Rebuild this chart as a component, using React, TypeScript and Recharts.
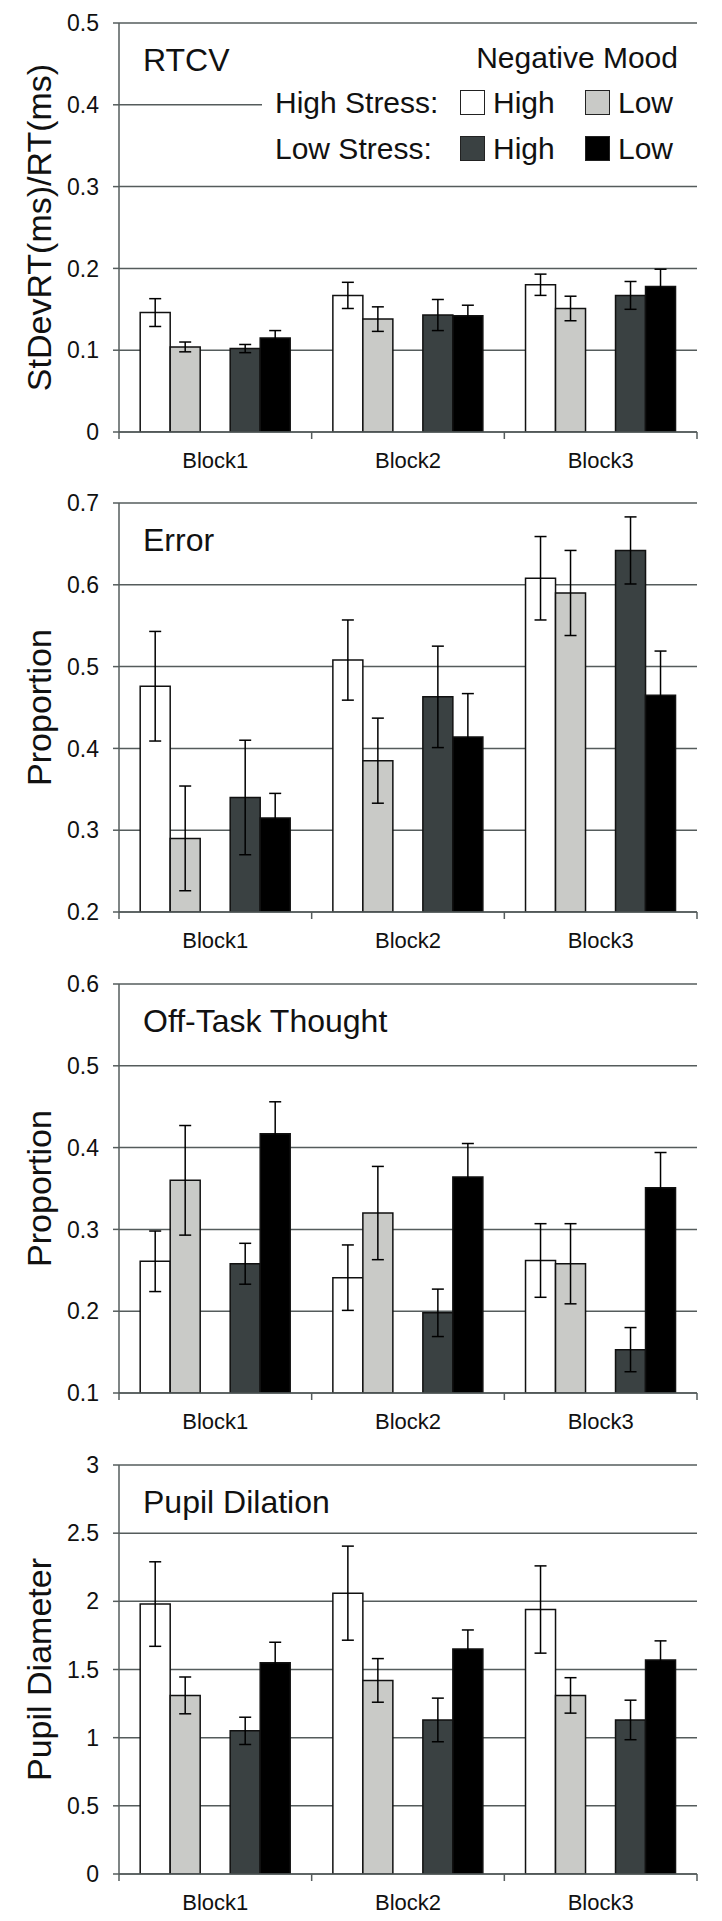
import { Bar, BarChart, CartesianGrid, ErrorBar, XAxis, YAxis } from 'recharts';

const blocks = ['Block1', 'Block2', 'Block3'];

// rows = blocks, columns = [HS/high mood, HS/low mood, LS/high mood, LS/low mood]
const rtcvMeans = [
  [0.146, 0.104, 0.102, 0.115],
  [0.167, 0.138, 0.143, 0.142],
  [0.18, 0.151, 0.167, 0.178],
];
const rtcvErrs = [
  [0.017, 0.006, 0.005, 0.009],
  [0.016, 0.015, 0.019, 0.013],
  [0.013, 0.015, 0.017, 0.021],
];

const errorMeans = [
  [0.476, 0.29, 0.34, 0.315],
  [0.508, 0.385, 0.463, 0.414],
  [0.608, 0.59, 0.642, 0.465],
];
const errorErrs = [
  [0.067, 0.064, 0.07, 0.03],
  [0.049, 0.052, 0.062, 0.053],
  [0.051, 0.052, 0.041, 0.054],
];

const offTaskMeans = [
  [0.261, 0.36, 0.258, 0.417],
  [0.241, 0.32, 0.198, 0.364],
  [0.262, 0.258, 0.153, 0.351],
];
const offTaskErrs = [
  [0.037, 0.067, 0.025, 0.039],
  [0.04, 0.057, 0.029, 0.041],
  [0.045, 0.049, 0.027, 0.043],
];

const pupilMeans = [
  [1.98, 1.31, 1.05, 1.55],
  [2.06, 1.42, 1.13, 1.65],
  [1.94, 1.31, 1.13, 1.57],
];
const pupilErrs = [
  [0.31, 0.135, 0.1, 0.15],
  [0.345, 0.16, 0.16, 0.14],
  [0.32, 0.13, 0.145, 0.14],
];

const rtcvTicks = [0, 0.1, 0.2, 0.3, 0.4, 0.5];
const errorTicks = [0.2, 0.3, 0.4, 0.5, 0.6, 0.7];
const offTaskTicks = [0.1, 0.2, 0.3, 0.4, 0.5, 0.6];
const pupilTicks = [0, 0.5, 1, 1.5, 2, 2.5, 3];

const seriesKeys = ['hsHigh', 'hsLow', 'lsHigh', 'lsLow'];
const seriesFill: Record<string, string> = {
  hsHigh: '#ffffff',
  hsLow: '#c9cac7',
  lsHigh: '#3a4142',
  lsLow: '#000000',
};

const FONT = "'Liberation Sans', Arial, sans-serif";
const GRID = '#555c5c';
const CHART_W = 722;
const CHART_H = 480;

function buildRows(means: number[][], errs: number[][]) {
  return blocks.map((block, i) => {
    const row: Record<string, string | number | null> = { block, gap: null };
    seriesKeys.forEach((k, j) => {
      row[k] = means[i][j];
      row[k + 'Err'] = errs[i][j];
    });
    return row;
  });
}

/* eslint-disable @typescript-eslint/no-explicit-any */
function BlockTick({ x, y, payload, index, visibleTicksCount }: any) {
  const half = payload?.offset ?? 0;
  const last = index === visibleTicksCount - 1;
  return (
    <g>
      <line x1={x - half} x2={x - half} y1={y} y2={y + 7} stroke={GRID} strokeWidth={1.5} />
      {last && <line x1={x + half} x2={x + half} y1={y} y2={y + 7} stroke={GRID} strokeWidth={1.5} />}
      <text
        x={x}
        y={y + 28}
        textAnchor="middle"
        dominantBaseline="central"
        fontSize={22}
        fontFamily={FONT}
        fill="#111"
      >
        {payload.value}
      </text>
    </g>
  );
}

interface PanelProps {
  title: string;
  yLabel: string;
  means: number[][];
  errs: number[][];
  ticks: number[];
  top: number;
  legend?: boolean;
}

function Panel({ title, yLabel, means, errs, ticks, top, legend }: PanelProps) {
  const rows = buildRows(means, errs);
  return (
    <div style={{ position: 'absolute', left: 0, top, width: CHART_W, height: CHART_H }}>
      <BarChart
        width={CHART_W}
        height={CHART_H}
        data={rows}
        margin={{ top: 23, right: 25, bottom: 0, left: 0 }}
        barCategoryGap="11%"
        barGap={0}
      >
        <CartesianGrid horizontal vertical={false} stroke={GRID} strokeWidth={1.5} />
        <XAxis
          dataKey="block"
          height={48}
          axisLine={{ stroke: GRID, strokeWidth: 1.5 }}
          tickLine={false}
          tickSize={0}
          tickMargin={0}
          interval={0}
          tick={<BlockTick />}
        />
        <YAxis
          width={119}
          domain={[ticks[0], ticks[ticks.length - 1]]}
          ticks={ticks}
          allowDataOverflow
          interval={0}
          axisLine={{ stroke: GRID, strokeWidth: 1.5 }}
          tickLine={{ stroke: GRID, strokeWidth: 1.5 }}
          tickSize={6}
          tickMargin={14}
          tick={{ fill: '#111', fontSize: 23, fontFamily: FONT }}
          label={{
            value: yLabel,
            angle: -90,
            position: 'center',
            dx: -21,
            fill: '#111',
            fontSize: 34,
            fontFamily: FONT,
          }}
        />
        <Bar dataKey="hsHigh" fill={seriesFill.hsHigh} stroke="#111" strokeWidth={1.5} isAnimationActive={false}>
          <ErrorBar dataKey="hsHighErr" width={6} stroke="#000" strokeWidth={1.5} direction="y" />
        </Bar>
        <Bar dataKey="hsLow" fill={seriesFill.hsLow} stroke="#111" strokeWidth={1.5} isAnimationActive={false}>
          <ErrorBar dataKey="hsLowErr" width={6} stroke="#000" strokeWidth={1.5} direction="y" />
        </Bar>
        <Bar dataKey="gap" fill="none" isAnimationActive={false} />
        <Bar dataKey="lsHigh" fill={seriesFill.lsHigh} stroke="#111" strokeWidth={1.5} isAnimationActive={false}>
          <ErrorBar dataKey="lsHighErr" width={6} stroke="#000" strokeWidth={1.5} direction="y" />
        </Bar>
        <Bar dataKey="lsLow" fill={seriesFill.lsLow} stroke="#111" strokeWidth={1.5} isAnimationActive={false}>
          <ErrorBar dataKey="lsLowErr" width={6} stroke="#000" strokeWidth={1.5} direction="y" />
        </Bar>
      </BarChart>

      <div
        style={{
          position: 'absolute',
          left: 143,
          top: 40,
          fontSize: 32,
          lineHeight: '40px',
          fontFamily: FONT,
          color: '#111',
          whiteSpace: 'nowrap',
        }}
      >
        {title}
      </div>

      {legend && <MoodLegend />}
    </div>
  );
}

function Swatch({ fill, left, top }: { fill: string; left: number; top: number }) {
  return (
    <div
      style={{
        position: 'absolute',
        left,
        top,
        width: 23,
        height: 23,
        background: fill,
        border: '1.5px solid #222',
      }}
    />
  );
}

function MoodLegend() {
  const txt = (s: string, left: number, top: number) => (
    <span style={{ position: 'absolute', left, top, lineHeight: '34px', whiteSpace: 'nowrap' }}>{s}</span>
  );
  return (
    <div
      style={{
        position: 'absolute',
        left: 262,
        top: 36,
        width: 440,
        height: 134,
        background: '#fff',
        fontSize: 30,
        fontFamily: FONT,
        color: '#111',
      }}
    >
      <span style={{ position: 'absolute', right: 24, top: 5, lineHeight: '34px', whiteSpace: 'nowrap' }}>
        Negative Mood
      </span>
      {txt('High Stress:', 13, 50)}
      <Swatch fill={seriesFill.hsHigh} left={198} top={54} />
      {txt('High', 231, 50)}
      <Swatch fill={seriesFill.hsLow} left={323} top={54} />
      {txt('Low', 356, 50)}
      {txt('Low Stress:', 13, 96)}
      <Swatch fill={seriesFill.lsHigh} left={198} top={100} />
      {txt('High', 231, 96)}
      <Swatch fill={seriesFill.lsLow} left={323} top={100} />
      {txt('Low', 356, 96)}
    </div>
  );
}

export default function App() {
  return (
    <div style={{ position: 'absolute', left: 0, top: 0, width: 722, height: 1921, background: '#fff' }}>
      <Panel title="RTCV" yLabel="StDevRT(ms)/RT(ms)" means={rtcvMeans} errs={rtcvErrs} ticks={rtcvTicks} top={0} legend />
      <Panel title="Error" yLabel="Proportion" means={errorMeans} errs={errorErrs} ticks={errorTicks} top={480} />
      <Panel title="Off-Task Thought" yLabel="Proportion" means={offTaskMeans} errs={offTaskErrs} ticks={offTaskTicks} top={961} />
      <Panel title="Pupil Dilation" yLabel="Pupil Diameter" means={pupilMeans} errs={pupilErrs} ticks={pupilTicks} top={1442} />
    </div>
  );
}
